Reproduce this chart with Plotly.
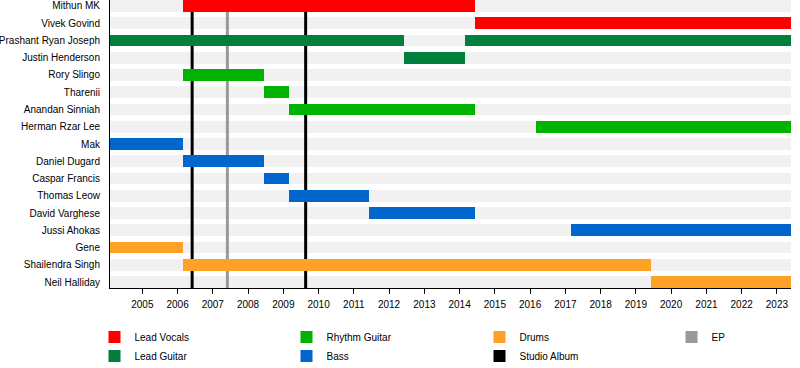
import plotly.graph_objects as go
import pandas as pd

# ---------------- data ----------------
people = [
    "Mithun MK", "Vivek Govind", "Prashant Ryan Joseph", "Justin Henderson",
    "Rory Slingo", "Tharenii", "Anandan Sinniah", "Herman Rzar Lee", "Mak",
    "Daniel Dugard", "Caspar Francis", "Thomas Leow", "David Varghese",
    "Jussi Ahokas", "Gene", "Shailendra Singh", "Neil Halliday",
]

range_start = "2004-02-01"
range_end = "2023-05-27"

roles = ["Lead Vocals", "Lead Guitar", "Rhythm Guitar", "Bass", "Drums"]
role_colors = ["#ff0000", "#007f3d", "#00b300", "#0066cc", "#ffa126"]

stint_person = [
    "Mithun MK", "Vivek Govind",
    "Prashant Ryan Joseph", "Prashant Ryan Joseph", "Justin Henderson",
    "Rory Slingo", "Tharenii", "Anandan Sinniah", "Herman Rzar Lee",
    "Mak", "Daniel Dugard", "Caspar Francis", "Thomas Leow", "David Varghese", "Jussi Ahokas",
    "Gene", "Shailendra Singh", "Neil Halliday",
]
stint_role = [
    "Lead Vocals", "Lead Vocals",
    "Lead Guitar", "Lead Guitar", "Lead Guitar",
    "Rhythm Guitar", "Rhythm Guitar", "Rhythm Guitar", "Rhythm Guitar",
    "Bass", "Bass", "Bass", "Bass", "Bass", "Bass",
    "Drums", "Drums", "Drums",
]
stint_start = [
    "2006-03-01", "2014-06-10",
    "2004-02-01", "2014-03-01", "2012-06-01",
    "2006-03-01", "2008-06-10", "2009-03-01", "2016-03-01",
    "2004-02-01", "2006-03-01", "2008-06-10", "2009-03-01", "2011-06-10", "2017-03-01",
    "2004-02-01", "2006-03-01", "2019-06-06",
]
stint_end = [
    "2014-06-10", "2023-05-27",
    "2012-06-01", "2023-05-27", "2014-03-01",
    "2008-06-10", "2009-03-01", "2014-06-10", "2023-05-27",
    "2006-03-01", "2008-06-10", "2009-03-01", "2011-06-10", "2014-06-10", "2023-05-27",
    "2006-03-01", "2019-06-06", "2023-05-27",
]

release_type = ["Studio Album", "EP", "Studio Album"]
release_date = ["2006-06-01", "2007-06-01", "2009-08-20"]
release_kinds = ["Studio Album", "EP"]
release_colors = ["#000000", "#999999"]

# ---------------- figure ----------------
BAR_W = 0.684
n = len(people)
idx = {p: i for i, p in enumerate(people)}


def ms(a, b):
    return (pd.Timestamp(b) - pd.Timestamp(a)).total_seconds() * 1000.0


fig = go.Figure()

# background bands (main subplot)
fig.add_trace(go.Bar(
    y=list(range(n)), x=[ms(range_start, range_end)] * n, base=[range_start] * n,
    orientation="h", width=BAR_W, marker=dict(color="#f1f1f1", line=dict(width=0)),
    showlegend=False, hoverinfo="skip", xaxis="x", yaxis="y",
))

# release lines (main subplot, above bands, below member bars)
for rt, rd in zip(release_type, release_date):
    col = release_colors[release_kinds.index(rt)]
    fig.add_trace(go.Scatter(
        x=[rd, rd], y=[-0.5 - BAR_W, n - 1 + BAR_W + 0.5], mode="lines",
        line=dict(color=col, width=3), showlegend=False, hoverinfo="skip",
        xaxis="x", yaxis="y",
    ))

legend_of = {"Lead Vocals": "legend", "Lead Guitar": "legend",
             "Rhythm Guitar": "legend2", "Bass": "legend2",
             "Drums": "legend3", "Studio Album": "legend3",
             "EP": "legend4"}

# member bars on overlaid axis
for role, col in zip(roles, role_colors):
    ys, xs, bs = [], [], []
    for p, r, s, e in zip(stint_person, stint_role, stint_start, stint_end):
        if r == role:
            ys.append(idx[p]); xs.append(ms(s, e)); bs.append(s)
    fig.add_trace(go.Bar(
        y=ys, x=xs, base=bs, orientation="h", width=BAR_W, name=role,
        marker=dict(color=col, line=dict(width=0)), xaxis="x", yaxis="y2",
        legend=legend_of[role],
    ))

# legend entries for releases
for kind, col in zip(release_kinds, release_colors):
    fig.add_trace(go.Bar(
        y=[None], x=[None], orientation="h", name=kind,
        marker=dict(color=col, line=dict(width=0)), xaxis="x", yaxis="y",
        legend=legend_of[kind],
    ))

yrange = [n - 1 + BAR_W / 2, -BAR_W / 2]
font = dict(family="Liberation Sans, Arial, sans-serif", size=10, color="#000000")

ML, MR, MT, MB = 110, 9, 0, 80
W, H = 800, 368
PW, PH = W - ML - MR, H - MT - MB


def px_x(px):
    return (px - ML) / PW


leg_common = dict(orientation="v", xref="paper", yref="container", xanchor="left",
                  yanchor="top", bgcolor="rgba(0,0,0,0)", font=font,
                  itemclick=False, itemdoubleclick=False, traceorder="normal")
leg_top = 1 - 322.5 / H

fig.update_layout(
    width=W, height=H,
    margin=dict(l=ML, r=MR, t=MT, b=MB, pad=0),
    paper_bgcolor="white", plot_bgcolor="white",
    barmode="overlay", bargap=0,
    font=font,
    showlegend=True,
    xaxis=dict(type="date", range=[range_start, range_end], tick0="2005-01-01", dtick="M12",
               tickformat="%Y", ticks="outside", ticklen=5, tickcolor="#000", tickwidth=1,
               showline=True, linecolor="#000", linewidth=1, showgrid=False, zeroline=False,
               ticklabelstandoff=2,
               tickfont=font, automargin=False, fixedrange=True),
    yaxis=dict(range=yrange, tickmode="array", tickvals=list(range(n)), ticktext=people,
               showline=True, linecolor="#000", linewidth=1, showgrid=False, zeroline=False,
               ticks="", ticklabelstandoff=7, tickfont=font, automargin=False, fixedrange=True),
    yaxis2=dict(range=yrange, overlaying="y", visible=False, showgrid=False, zeroline=False,
                fixedrange=True),
    legend=dict(x=px_x(94.5), y=leg_top, **leg_common),
    legend2=dict(x=px_x(286.5), y=leg_top, **leg_common),
    legend3=dict(x=px_x(479.5), y=leg_top, **leg_common),
    legend4=dict(x=px_x(671.5), y=leg_top, **leg_common),
)

fig.write_html(
    "out.html",
    config={"displayModeBar": False},
    post_script="document.body.style.margin='0px';document.body.style.padding='0px';",
)
